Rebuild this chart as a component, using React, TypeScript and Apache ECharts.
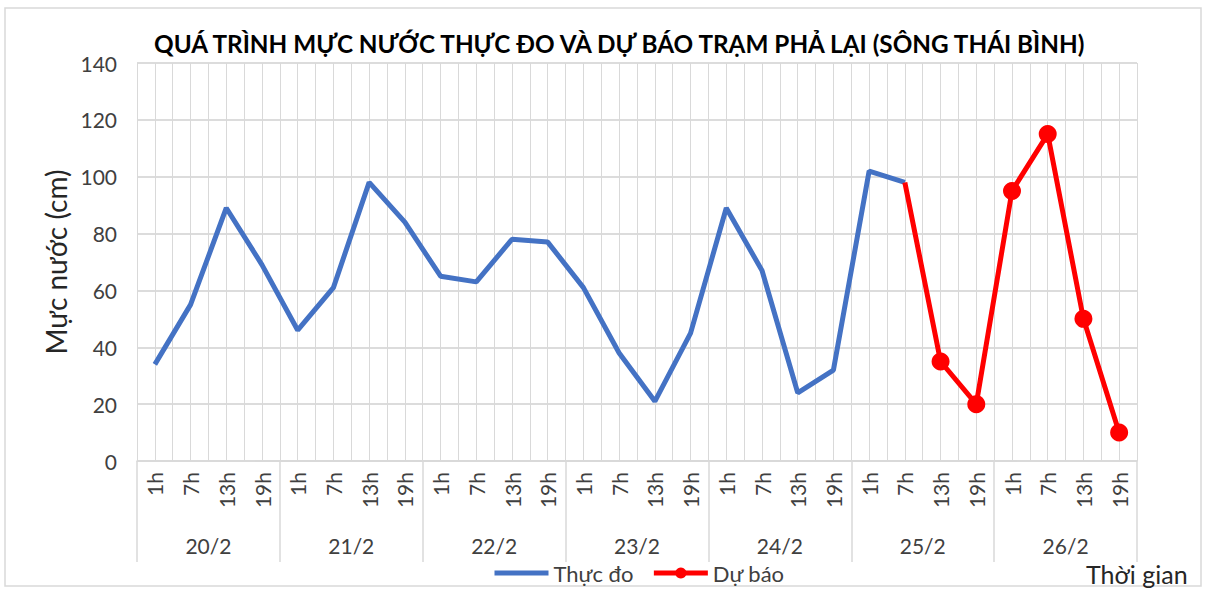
import React, { useEffect, useRef } from "react";
import * as echarts from "echarts";

const TITLE = "QUÁ TRÌNH MỰC NƯỚC THỰC ĐO VÀ DỰ BÁO TRẠM PHẢ LẠI (SÔNG THÁI BÌNH)";
const days = ["20/2", "21/2", "22/2", "23/2", "24/2", "25/2", "26/2"];
const hours = ["1h", "7h", "13h", "19h"];
const yTicks = { min: 0, max: 140, interval: 20 };

// Observed (Thực đo): 20/2 1h .. 25/2 7h
const observed = [
  34, 55, 89, 69,
  46, 61, 98, 84,
  65, 63, 78, 77,
  61, 38, 21, 45,
  89, 67, 24, 32,
  102, 98,
];
// Forecast (Dự báo): 25/2 7h .. 26/2 19h
const forecast = [98, 35, 20, 95, 115, 50, 10];

const FONT = "Lato";

export default function App() {
  const ref = useRef<HTMLDivElement>(null);
  useEffect(() => {
    if (!ref.current) return;
    const chart = echarts.init(ref.current, undefined, { renderer: "svg" });
    const categories: string[] = [];
    days.forEach((d) => hours.forEach((h) => categories.push(d + " " + h)));
    const hourLabels = categories.map((c) => c.split(" ")[1]);
    const n = categories.length;
    const obsData = categories.map((_, i) => (i < observed.length ? observed[i] : null));
    const fcStart = n - forecast.length;
    const fcData: any[] = categories.map((_, i) => {
      if (i < fcStart) return null;
      const v = forecast[i - fcStart];
      return i === fcStart ? { value: v, symbol: "none" } : v;
    });
    const grey = "#d9d9d9";
    const txt = "#404040";
    chart.setOption({
      animation: false,
      textStyle: { fontFamily: FONT },
      title: {
        text: TITLE,
        left: 149,
        top: 26,
        textStyle: { fontFamily: FONT, fontSize: 24.3, fontWeight: "bold", color: "#000" },
      },
      grid: { left: 137, right: 70, top: 63, bottom: 130, containLabel: false },
      legend: {
        left: 487,
        top: 557,
        itemWidth: 54,
        itemHeight: 14,
        itemGap: 18,
        lineStyle: { width: 5 },
        textStyle: { fontFamily: FONT, fontSize: 22, color: txt },
        data: [
          { name: "Thực đo", itemStyle: { opacity: 0 } },
          { name: "Dự báo" },
        ],
      },
      graphic: [
        {
          type: "rect",
          shape: { x: 5, y: 8, width: 1196, height: 578 },
          style: { fill: "none", stroke: grey, lineWidth: 1.5 },
          silent: true,
        },
        {
          type: "text",
          x: 1086,
          y: 561,
          style: { text: "Thời gian", fontFamily: FONT, fontSize: 25, fill: "#262626" },
        },
      ],
      xAxis: [
        {
          type: "category",
          data: hourLabels,
          boundaryGap: true,
          axisLine: { lineStyle: { color: grey, width: 1.5 } },
          axisTick: { show: false },
          axisLabel: { interval: 0, rotate: 90, margin: 11, fontSize: 21, color: txt, fontFamily: FONT },
          splitLine: { show: false },
        },
        {
          type: "category",
          data: days,
          position: "bottom",
          boundaryGap: true,
          axisLine: { show: false },
          axisTick: { show: true, interval: 0, length: 101, lineStyle: { color: grey, width: 1.5 } },
          axisLabel: { interval: 0, margin: 74, fontSize: 21, color: txt, fontFamily: FONT },
          splitLine: { show: false },
        },
        {
          type: "value",
          min: 0,
          max: n * 2,
          interval: 1,
          position: "top",
          axisLine: { show: false },
          axisTick: { show: false },
          axisLabel: { show: false },
          splitLine: { show: true, lineStyle: { color: grey, width: 1 } },
        },
      ],
      yAxis: {
        type: "value",
        min: yTicks.min,
        max: yTicks.max,
        interval: yTicks.interval,
        name: "Mực nước (cm)",
        nameLocation: "middle",
        nameRotate: 90,
        nameGap: 66,
        nameTextStyle: { fontFamily: FONT, fontSize: 28, color: "#262626" },
        axisLine: { show: false },
        axisTick: { show: false },
        axisLabel: { margin: 20, fontSize: 21, color: txt, fontFamily: FONT },
        splitLine: { show: true, lineStyle: { color: "#d0d0d0", width: 1.5 } },
      },
      series: [
        {
          name: "Thực đo",
          type: "line",
          xAxisIndex: 0,
          data: obsData,
          symbol: "none",
          lineStyle: { color: "#4472C4", width: 5 },
          itemStyle: { color: "#4472C4" },
          z: 3,
        },
        {
          name: "Dự báo",
          type: "line",
          xAxisIndex: 0,
          data: fcData,
          symbol: "circle",
          symbolSize: 18,
          showAllSymbol: true,
          lineStyle: { color: "#FF0000", width: 5 },
          itemStyle: { color: "#FF0000" },
          z: 4,
        },
      ],
    });
    return () => chart.dispose();
  }, []);
  return (
    <div
      ref={ref}
      style={{ position: "absolute", left: 0, top: 0, width: 1207, height: 591, background: "#fff" }}
    />
  );
}
